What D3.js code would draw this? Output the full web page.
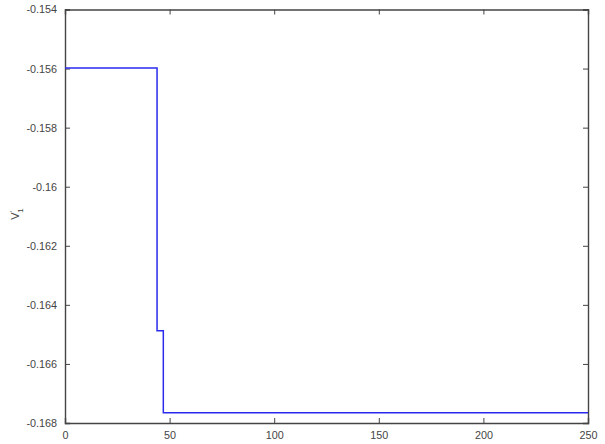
<!DOCTYPE html>
<html><head><meta charset="utf-8">
<script src="https://cdn.jsdelivr.net/npm/d3@7"></script>
<style>body{margin:0;background:#fff}svg{display:block}text{font-family:"Liberation Sans",Arial,sans-serif}</style>
</head><body>
<script>
const xs = [0, 44, 47, 250];
const vs = [-0.15598, -0.16488, -0.16765, -0.16765];
const xTicks = [0, 50, 100, 150, 200, 250];
const yTicks = [-0.154, -0.156, -0.158, -0.16, -0.162, -0.164, -0.166, -0.168];

const W = 605, H = 444;
const m = {l: 65, r: 17, t: 9.5, b: 21};
const svg = d3.select("body").append("svg").attr("width", W).attr("height", H);
const x = d3.scaleLinear().domain([0, 250]).range([m.l, W - m.r]);
const y = d3.scaleLinear().domain([-0.168, -0.154]).range([H - m.b, m.t]);

const axCol = "#444";
const fmt = d => String(d);

const gx = svg.append("g").attr("transform", `translate(0,${H - m.b})`)
  .call(d3.axisBottom(x).tickValues(xTicks).tickSize(-5).tickPadding(8).tickFormat(fmt));
const gxt = svg.append("g").attr("transform", `translate(0,${m.t})`)
  .call(d3.axisTop(x).tickValues(xTicks).tickSize(-5).tickFormat(""));
const gy = svg.append("g").attr("transform", `translate(${m.l},0)`)
  .call(d3.axisLeft(y).tickValues(yTicks).tickSize(-5).tickPadding(8).tickFormat(fmt));
const gyr = svg.append("g").attr("transform", `translate(${W - m.r},0)`)
  .call(d3.axisRight(y).tickValues(yTicks).tickSize(-5).tickFormat(""));

[gx, gxt, gy, gyr].forEach(g => {
  g.select(".domain").attr("stroke", axCol).attr("stroke-width", 1.4);
  g.selectAll(".tick line").attr("stroke", axCol).attr("stroke-width", 1);
  g.selectAll("text").attr("fill", "#444").attr("font-size", 10.8);
});

const line = d3.line().x((d, i) => x(xs[i])).y(d => y(d)).curve(d3.curveStepAfter);
svg.append("path").datum(vs).attr("d", line)
  .attr("fill", "none").attr("stroke", "#2a2aee").attr("stroke-width", 1.5);

const lab = svg.append("text").attr("transform", "translate(19,214) rotate(-90)")
  .attr("text-anchor", "middle").attr("fill", "#444").attr("font-size", 11);
lab.append("tspan").text("V");
lab.append("tspan").attr("dy", -4).attr("font-size", 8).text("'");
lab.append("tspan").attr("dy", 8).attr("dx", -2).attr("font-size", 8).text("1");
</script>
</body></html>
